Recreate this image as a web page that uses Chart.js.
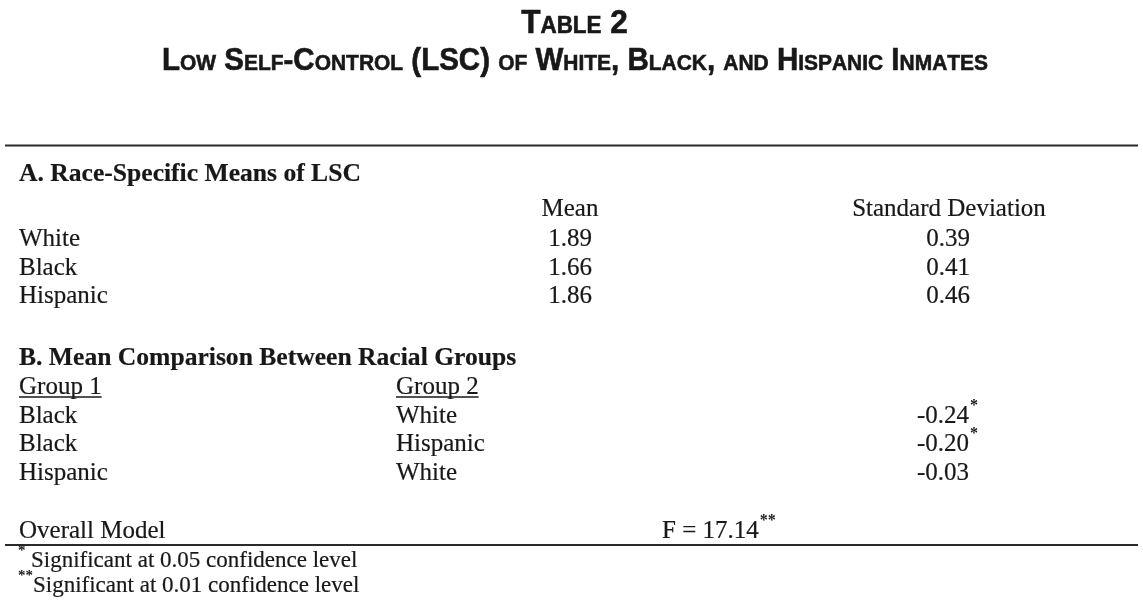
<!DOCTYPE html>
<html>
<head>
<meta charset="utf-8">
<script src="https://cdn.jsdelivr.net/npm/chart.js@4"></script>
<style>
  html, body { margin: 0; padding: 0; background: #fff; }
  #wrap { width: 1143px; height: 607px; position: relative; }
</style>
</head>
<body>
<div id="wrap"><canvas id="tableChart"></canvas></div>
<script>
// table content
const titleLine1 = "Table 2";
const titleLine2 = "Low Self-Control (LSC) of White, Black, and Hispanic Inmates";
const sectionA = "A. Race-Specific Means of LSC";
const sectionB = "B. Mean Comparison Between Racial Groups";
const statHeaders = ["Mean", "Standard Deviation"];
const races = ["White", "Black", "Hispanic"];
const raceMeans = [1.89, 1.66, 1.86];
const raceSDs = [0.39, 0.41, 0.46];
const groupHeaders = ["Group 1", "Group 2"];
const group1 = ["Black", "Black", "Hispanic"];
const group2 = ["White", "Hispanic", "White"];
const meanDiffs = [-0.24, -0.20, -0.03];
const diffStars = ["*", "*", ""];
const modelLabel = "Overall Model";
const fValue = 17.14;
const fStars = "**";
const footnotes = [["*", "Significant at 0.05 confidence level"], ["**", "Significant at 0.01 confidence level"]];

// layout (page units = pixels of the 1143x607 picture)
const colLeft = 19, colGroup2 = 396, colMean = 570, colSD = 948, colDiff = 917, colF = 662;
const rowA = 181, rowHead = 216, rowRace = [246, 274.5, 303];
const rowB = 365, rowGroupHead = 394, rowComp = [422.5, 451, 479.5];
const rowModel = 538, rowNotes = [567, 592];
const ruleTop = 145.5, ruleBottom = 545, ruleX = [5, 1138];

const ink = "#181818";
const serif = "'Liberation Serif', 'Times New Roman', serif";
const sans = "'Liberation Sans', Arial, sans-serif";

function smallCaps(ctx, text, cx, base, big, small, squeeze) {
  const parts = [];
  for (const c of text) {
    const low = c !== c.toUpperCase();
    parts.push({ t: c.toUpperCase(), size: low ? small : big });
  }
  let w = 0;
  parts.forEach(p => {
    ctx.font = "bold " + p.size + "px " + sans;
    p.w = ctx.measureText(p.t).width;
    w += p.w;
  });
  ctx.save();
  ctx.translate(cx, base);
  ctx.scale(squeeze, 1);
  let x = -w / 2;
  ctx.textAlign = "left";
  ctx.textBaseline = "alphabetic";
  ctx.lineWidth = 0.6;
  parts.forEach(p => {
    ctx.font = "bold " + p.size + "px " + sans;
    ctx.fillText(p.t, x, 0);
    ctx.strokeText(p.t, x, 0);
    x += p.w;
  });
  ctx.restore();
  return w;
}

function naturalWidth(ctx, text, big, small) {
  let w = 0;
  for (const c of text) {
    const low = c !== c.toUpperCase();
    ctx.font = "bold " + (low ? small : big) + "px " + sans;
    w += ctx.measureText(c.toUpperCase()).width;
  }
  return w;
}

const tablePlugin = {
  id: "tableText",
  afterDraw(chart) {
    const ctx = chart.ctx;
    const sx = chart.scales.x, sy = chart.scales.y;
    const X = v => sx.getPixelForValue(v);
    const Y = v => sy.getPixelForValue(v);
    const unit = X(1) - X(0);

    ctx.save();
    ctx.fillStyle = ink;
    ctx.strokeStyle = ink;

    // title, condensed small caps
    const big = 31 * unit, small = 22 * unit;
    const squeeze = (X(988) - X(162)) / naturalWidth(ctx, titleLine2, big, small);
    smallCaps(ctx, titleLine1, X(574.5), Y(33), big * 1.07, small * 1.07, squeeze);
    smallCaps(ctx, titleLine2, X(575), Y(70), big, small, squeeze);

    const body = 25 * unit;
    const txt = (s, x, y, align, bold, size) => {
      ctx.font = (bold ? "bold " : "") + (size || body) + "px " + serif;
      ctx.textAlign = align || "left";
      ctx.textBaseline = "alphabetic";
      ctx.lineWidth = 0.2 * unit;
      ctx.fillText(s, X(x), Y(y));
      ctx.strokeText(s, X(x), Y(y));
      return ctx.measureText(s).width;
    };
    const sup = (s, xPix, y) => {
      ctx.font = "bold " + 16 * unit + "px " + serif;
      ctx.textAlign = "left";
      ctx.fillText(s, xPix + 1, Y(y - 13));
    };

    // section A
    txt(sectionA, colLeft, rowA, "left", true, 25.6 * unit);
    txt(statHeaders[0], colMean, rowHead, "center");
    txt(statHeaders[1], colSD + 1, rowHead, "center");
    races.forEach((r, i) => {
      txt(r, colLeft, rowRace[i]);
      txt(raceMeans[i].toFixed(2), colMean, rowRace[i], "center");
      txt(raceSDs[i].toFixed(2), colSD, rowRace[i], "center");
    });

    // section B
    txt(sectionB, colLeft, rowB, "left", true, 25.6 * unit);
    [colLeft, colGroup2].forEach((cx, i) => {
      const w = txt(groupHeaders[i], cx, rowGroupHead);
      ctx.lineWidth = 1.3 * unit;
      ctx.beginPath();
      ctx.moveTo(X(cx), Y(rowGroupHead + 3));
      ctx.lineTo(X(cx) + w, Y(rowGroupHead + 3));
      ctx.stroke();
    });
    group1.forEach((g, i) => {
      txt(g, colLeft, rowComp[i]);
      txt(group2[i], colGroup2, rowComp[i]);
      const w = txt(meanDiffs[i].toFixed(2), colDiff, rowComp[i]);
      if (diffStars[i]) sup(diffStars[i], X(colDiff) + w, rowComp[i]);
    });

    // overall model
    txt(modelLabel, colLeft, rowModel);
    const fw = txt("F = " + fValue.toFixed(2), colF, rowModel);
    sup(fStars, X(colF) + fw, rowModel);

    // footnotes
    footnotes.forEach((f, i) => {
      ctx.font = "bold " + 15 * unit + "px " + serif;
      ctx.textAlign = "left";
      ctx.fillText(f[0], X(18), Y(rowNotes[i] - 12));
      txt(f[1], f[0].length > 1 ? 33 : 31, rowNotes[i], "left", false, 23 * unit);
    });

    ctx.restore();
  }
};

const ruleData = y => [{ x: ruleX[0], y: y }, { x: ruleX[1], y: y }];

new Chart(document.getElementById("tableChart"), {
  type: "scatter",
  data: {
    datasets: [
      { data: ruleData(ruleTop), showLine: true, borderColor: "#2a2a2a", borderWidth: 1.8, pointRadius: 0 },
      { data: ruleData(ruleBottom), showLine: true, borderColor: "#2a2a2a", borderWidth: 1.8, pointRadius: 0 }
    ]
  },
  options: {
    responsive: true,
    maintainAspectRatio: false,
    animation: false,
    layout: { padding: 0 },
    plugins: { legend: { display: false }, tooltip: { enabled: false } },
    scales: {
      x: { type: "linear", min: 0, max: 1143, display: false },
      y: { type: "linear", min: 0, max: 607, reverse: true, display: false }
    }
  },
  plugins: [tablePlugin]
});
</script>
</body>
</html>
